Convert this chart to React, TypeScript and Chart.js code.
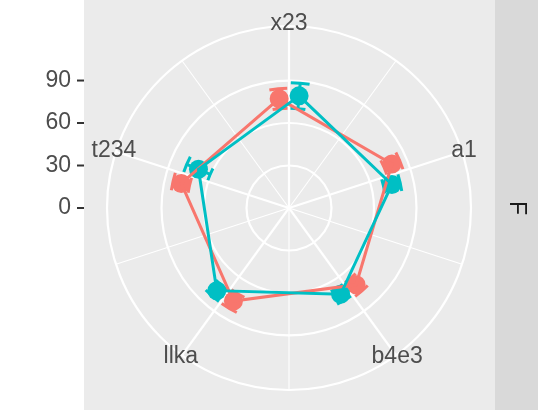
import React, { useEffect, useRef } from "react";
import { Chart, registerables } from "chart.js";

Chart.register(...registerables);

// ---- data ----
const categories = ["x23", "a1", "b4e3", "llka", "t234"];
const redValues = [77.5, 79, 72, 76.5, 78];
const redErrors = [7, 6, 6, 6, 6];
const cyanValues = [79.5, 74.5, 71, 77.5, 69.5];
const cyanErrors = [9, 6, 5, 5, 9];
const radialTickValues = [0, 30, 60, 90];
const stripLabel = "F";

// ---- style / layout constants ----
const RED = "#F8766D";
const CYAN = "#00BFC4";
const STEPS = 14; // angular sub-steps per category (used for dodging)
const DODGE = 1;
const N = categories.length * STEPS;
const R_MAX = 128.5;
const FONT = "23px 'Liberation Sans', Arial, Helvetica, sans-serif";

const labels = Array.from({ length: N }, (_, i) =>
  i % STEPS === 0 ? categories[i / STEPS] : ""
);

function place(values: number[], shift: number) {
  const arr: (number | null)[] = new Array(N).fill(null);
  values.forEach((v, k) => {
    arr[(k * STEPS + shift + N) % N] = v;
  });
  return arr;
}

const groups = [
  { values: redValues, errors: redErrors, shift: -DODGE, color: RED },
  { values: cyanValues, errors: cyanErrors, shift: DODGE, color: CYAN },
];

const backgroundPlugin = {
  id: "ggBackground",
  beforeDraw(chart: any) {
    const ctx = chart.ctx;
    ctx.save();
    ctx.fillStyle = "#FFFFFF";
    ctx.fillRect(0, 0, chart.width, chart.height);
    ctx.fillStyle = "#EBEBEB";
    ctx.fillRect(84, 0, 411, 410);
    ctx.fillStyle = "#D9D9D9";
    ctx.fillRect(495, 0, 43, 410);
    ctx.restore();
  },
};

const errorBarPlugin = {
  id: "errorBars",
  beforeDatasetsDraw(chart: any) {
    const scale = chart.scales.r;
    const ctx = chart.ctx;
    ctx.save();
    ctx.lineWidth = 3;
    ctx.lineCap = "butt";
    groups.forEach((g) => {
      ctx.strokeStyle = g.color;
      g.values.forEach((v, k) => {
        const idx = (k * STEPS + g.shift + N) % N;
        const lo = scale.getDistanceFromCenterForValue(v - g.errors[k]);
        const hi = scale.getDistanceFromCenterForValue(v + g.errors[k]);
        const a = scale.getIndexAngle(idx) - Math.PI / 2;
        const p1 = scale.getPointPosition(idx, lo);
        const p2 = scale.getPointPosition(idx, hi);
        ctx.beginPath();
        ctx.moveTo(p1.x, p1.y);
        ctx.lineTo(p2.x, p2.y);
        ctx.stroke();
        const half = 0.075;
        [lo, hi].forEach((d) => {
          ctx.beginPath();
          ctx.arc(scale.xCenter, scale.yCenter, d, a - half, a + half);
          ctx.stroke();
        });
      });
    });
    ctx.restore();
  },
};

const textPlugin = {
  id: "ggText",
  afterDraw(chart: any) {
    const scale = chart.scales.r;
    const ctx = chart.ctx;
    ctx.save();
    ctx.font = FONT;
    // category labels
    ctx.fillStyle = "#4D4D4D";
    ctx.textAlign = "center";
    ctx.textBaseline = "middle";
    categories.forEach((c, k) => {
      const p = scale.getPointPosition(k * STEPS, scale.drawingArea + 2);
      ctx.fillText(c, p.x, p.y);
    });
    // radial axis on the left
    ctx.textAlign = "right";
    radialTickValues.forEach((v) => {
      const y = scale.yCenter - scale.getDistanceFromCenterForValue(v);
      ctx.fillStyle = "#4D4D4D";
      ctx.fillText(String(v), 71, y);
      ctx.strokeStyle = "#333333";
      ctx.lineWidth = 2;
      ctx.beginPath();
      ctx.moveTo(77, y);
      ctx.lineTo(84, y);
      ctx.stroke();
    });
    // strip label
    ctx.fillStyle = "#1A1A1A";
    ctx.textAlign = "center";
    ctx.translate(516.5, scale.yCenter);
    ctx.rotate(Math.PI / 2);
    ctx.fillText(stripLabel, 0, 0);
    ctx.restore();
  },
};

export default function App() {
  const ref = useRef<HTMLCanvasElement>(null);
  useEffect(() => {
    if (!ref.current) return;
    const lineDs = (g: any, order: number) => ({
      data: place(g.values, g.shift),
      borderColor: g.color,
      backgroundColor: g.color,
      borderWidth: 3,
      pointRadius: 0,
      spanGaps: true,
      fill: false,
      tension: 0,
      order,
    });
    const pointDs = (g: any, order: number) => ({
      data: place(g.values, g.shift),
      showLine: false,
      borderColor: g.color,
      backgroundColor: g.color,
      pointRadius: 9.5,
      pointBorderWidth: 0,
      pointBackgroundColor: g.color,
      pointBorderColor: g.color,
      fill: false,
      order,
    });
    const chart = new Chart(ref.current, {
      type: "radar",
      data: {
        labels,
        datasets: [
          lineDs(groups[1], 0),
          lineDs(groups[0], 1),
          pointDs(groups[1], 2),
          pointDs(groups[0], 3),
        ],
      },
      options: {
        animation: false,
        responsive: false,
        devicePixelRatio: 1,
        events: [],
        layout: { padding: { left: 107, right: 66, top: 26, bottom: 19 } },
        plugins: { legend: { display: false }, tooltip: { enabled: false } },
        scales: {
          r: {
            min: 0,
            max: R_MAX,
            afterBuildTicks: (s: any) => {
              s.ticks = [0, ...radialTickValues.filter((v) => v > 0), R_MAX].map((v) => ({ value: v }));
            },
            ticks: { display: false },
            pointLabels: { display: false },
            grid: { circular: true, color: "#FFFFFF", lineWidth: 2.2 },
            angleLines: {
              display: true,
              color: (c: any) =>
                c.index % STEPS === 0 || c.index % STEPS === STEPS / 2 ? "#FFFFFF" : "rgba(0,0,0,0)",
              lineWidth: (c: any) =>
                c.index % STEPS === 0 ? 2.2 : c.index % STEPS === STEPS / 2 ? 1.1 : 0,
            },
          },
        },
      },
      plugins: [backgroundPlugin, errorBarPlugin, textPlugin],
    } as any);
    return () => chart.destroy();
  }, []);
  return (
    <div style={{ position: "fixed", left: 0, top: 0, width: 538, height: 410, background: "#fff" }}>
      <canvas ref={ref} width={538} height={410} style={{ display: "block", width: 538, height: 410 }} />
    </div>
  );
}
